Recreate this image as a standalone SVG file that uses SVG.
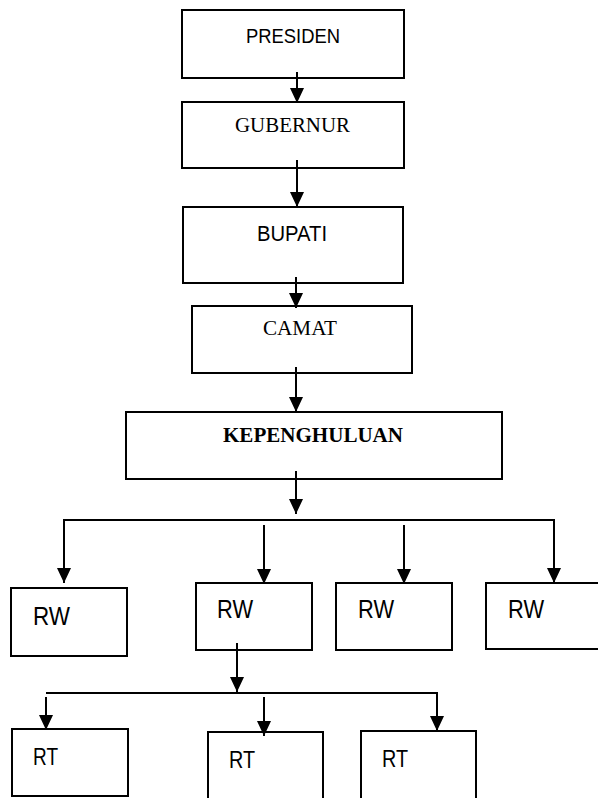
<svg xmlns="http://www.w3.org/2000/svg" width="598" height="798" viewBox="0 0 598 798">
<style>
.box{fill:#fff;stroke:#000;stroke-width:2}
.ln{fill:none;stroke:#000;stroke-width:2}
.sans{font-family:"Liberation Sans",Arial,sans-serif;fill:#000}
.serif{font-family:"Liberation Serif","Times New Roman",serif;fill:#000}
</style>
<defs>
<marker id="ah" viewBox="0 0 15 14" refX="15" refY="7" markerWidth="15" markerHeight="14" markerUnits="userSpaceOnUse" orient="auto">
<path d="M0,0 L15,7 L0,14 z" fill="#000"/>
</marker>
</defs>
<rect width="598" height="798" fill="#fff"/>
<g id="presiden"><rect class="box" x="182" y="10" width="222" height="68"/><text class="sans" x="246" y="43" font-size="21" textLength="94" lengthAdjust="spacingAndGlyphs">PRESIDEN</text></g>
<g id="gubernur"><rect class="box" x="182" y="102" width="222" height="66"/><text class="serif" x="235" y="132" font-size="21" textLength="115" lengthAdjust="spacingAndGlyphs">GUBERNUR</text></g>
<g id="bupati"><rect class="box" x="183" y="207" width="220" height="76"/><text class="sans" x="257" y="241" font-size="22" textLength="70" lengthAdjust="spacingAndGlyphs">BUPATI</text></g>
<g id="camat"><rect class="box" x="192" y="306" width="220" height="67"/><text class="serif" x="263" y="335" font-size="20.5" textLength="74" lengthAdjust="spacingAndGlyphs">CAMAT</text></g>
<g id="kepenghuluan"><rect class="box" x="126" y="412" width="376" height="67"/><text class="serif" x="223" y="442" font-size="21" font-weight="bold" textLength="180" lengthAdjust="spacingAndGlyphs">KEPENGHULUAN</text></g>
<g id="rw1"><rect class="box" x="11" y="588" width="116" height="68"/><text class="sans" x="33" y="625" font-size="26" textLength="37" lengthAdjust="spacingAndGlyphs">RW</text></g>
<g id="rw2"><rect class="box" x="196" y="583" width="116" height="67"/><text class="sans" x="217" y="618" font-size="26" textLength="36" lengthAdjust="spacingAndGlyphs">RW</text></g>
<g id="rw3"><rect class="box" x="336" y="583" width="116" height="67"/><text class="sans" x="358" y="618" font-size="26" textLength="36" lengthAdjust="spacingAndGlyphs">RW</text></g>
<g id="rw4"><rect class="box" x="486" y="583" width="116" height="66"/><text class="sans" x="508" y="618" font-size="26" textLength="36" lengthAdjust="spacingAndGlyphs">RW</text></g>
<g id="rt1"><rect class="box" x="12" y="729" width="116" height="67"/><text class="sans" x="33" y="765" font-size="24" textLength="25" lengthAdjust="spacingAndGlyphs">RT</text></g>
<g id="rt2"><rect class="box" x="208" y="732" width="115" height="80"/><text class="sans" x="229" y="768" font-size="24" textLength="26" lengthAdjust="spacingAndGlyphs">RT</text></g>
<g id="rt3"><rect class="box" x="361" y="731" width="115" height="80"/><text class="sans" x="382" y="767" font-size="24" textLength="26" lengthAdjust="spacingAndGlyphs">RT</text></g>
<g id="connectors">
<line class="ln" x1="297" y1="72" x2="297" y2="103" marker-end="url(#ah)"/>
<line class="ln" x1="297" y1="160" x2="297" y2="207" marker-end="url(#ah)"/>
<line class="ln" x1="296" y1="277" x2="296" y2="308" marker-end="url(#ah)"/>
<line class="ln" x1="296" y1="367" x2="296" y2="412" marker-end="url(#ah)"/>
<line class="ln" x1="296" y1="471" x2="296" y2="514" marker-end="url(#ah)"/>
<path class="ln" d="M64,582 V520 H554 V583" marker-end="url(#ah)"/>
<line class="ln" x1="64" y1="520" x2="64" y2="583" marker-end="url(#ah)"/>
<line class="ln" x1="264" y1="525" x2="264" y2="584" marker-end="url(#ah)"/>
<line class="ln" x1="404" y1="525" x2="404" y2="584" marker-end="url(#ah)"/>
<line class="ln" x1="237" y1="643" x2="237" y2="692" marker-end="url(#ah)"/>
<path class="ln" d="M46,693 H437 V731" marker-end="url(#ah)"/>
<line class="ln" x1="46" y1="697" x2="46" y2="730" marker-end="url(#ah)"/>
<line class="ln" x1="264" y1="697" x2="264" y2="736" marker-end="url(#ah)"/>
</g>
</svg>
